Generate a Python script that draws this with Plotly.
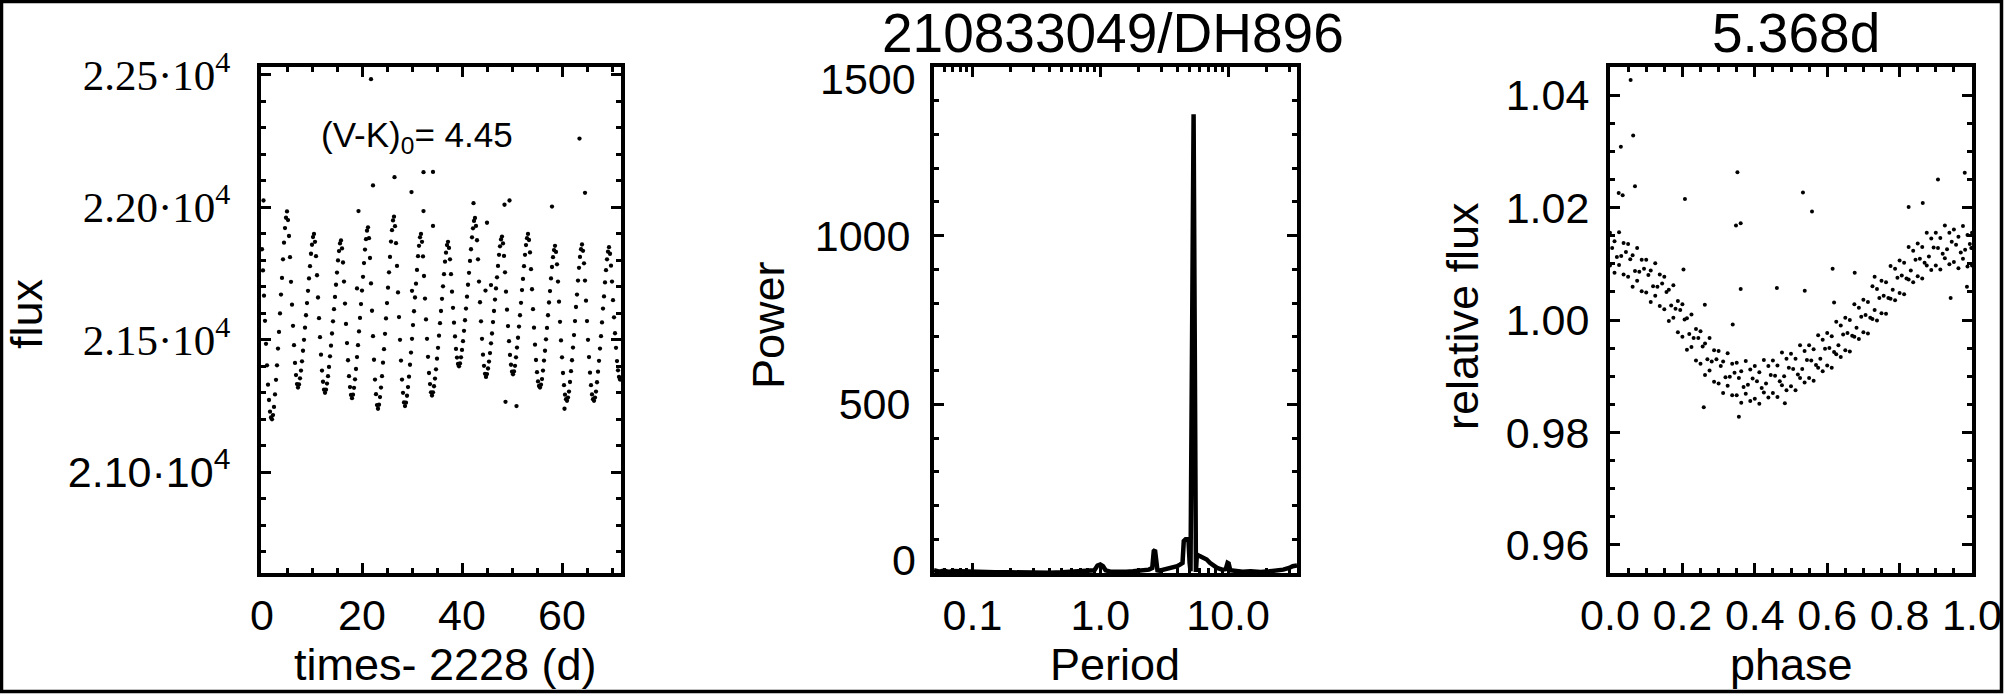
import plotly.graph_objects as go

W, H = 2005, 694

# ---------------- data: light curve (times - 2228 d, flux) ----------------
lc_start = 0.0
lc_cadence = 0.2
lc_flux = [
    21842, 21762, 21667, 21572, 21485, 21404, 21331, 21273, 21229, 21207, 21200,
    21216, 21247, 21294, 21349, 21404, 21467, 21530, 21600, 21671, 21734, 21804, 21867, 21922, 21961, 21985,
    21952, 21892, 21812, 21719, 21633, 21553, 21480, 21413, 21367, 21333, 21320,
    21332, 21355, 21384, 21419, 21459, 21500, 21546, 21593, 21639, 21685, 21732, 21778, 21825, 21859, 21888, 21900,
    21870, 21816, 21744, 21660, 21582, 21510, 21444, 21384, 21342, 21312, 21300,
    21312, 21335, 21363, 21398, 21438, 21478, 21524, 21570, 21616, 21662, 21708, 21754, 21800, 21835, 21864, 21875,
    21845, 21792, 21720, 21637, 21560, 21488, 21423, 21363, 21322, 21292, 21280,
    21293, 21319, 21351, 21390, 21435, 21480, 21532, 21583, 21635, 21686, 21738, 21790, 21841, 21880, 21912, 21925,
    21884, 21809, 21713, 21610, 21514, 21425, 21350, 21295, 21254, 21240,
    21255, 21284, 21320, 21363, 21414, 21465, 21523, 21581, 21639, 21697, 21755, 21813, 21871, 21914, 21951, 21965,
    21929, 21865, 21779, 21679, 21586, 21500, 21422, 21350, 21300, 21264, 21250,
    21263, 21289, 21322, 21361, 21406, 21452, 21504, 21556, 21608, 21660, 21712, 21764, 21816, 21855, 21887, 21900,
    21870, 21815, 21741, 21656, 21577, 21504, 21436, 21375, 21333, 21302, 21290,
    21302, 21325, 21354, 21389, 21429, 21470, 21516, 21563, 21609, 21655, 21702, 21748, 21795, 21829, 21858, 21870,
    21847, 21804, 21748, 21682, 21621, 21565, 21513, 21466, 21433, 21409, 21400,
    21411, 21434, 21462, 21495, 21534, 21574, 21618, 21663, 21708, 21753, 21798, 21842, 21887, 21921, 21949, 21960,
    21930, 21876, 21804, 21720, 21642, 21570, 21504, 21444, 21402, 21372, 21360,
    21371, 21392, 21418, 21450, 21487, 21524, 21567, 21609, 21652, 21694, 21736, 21779, 21821, 21853, 21879, 21890,
    21864, 21817, 21755, 21682, 21614, 21552, 21495, 21443, 21406, 21380, 21370,
    21381, 21402, 21434, 21471, 21508, 21550, 21593, 21640, 21688, 21730, 21778, 21821, 21858, 21884, 21900,
    21877, 21830, 21767, 21691, 21616, 21546, 21482, 21424, 21378, 21343, 21326, 21320,
    21331, 21352, 21384, 21422, 21459, 21502, 21545, 21593, 21641, 21684, 21732, 21775, 21812, 21839, 21855,
    21832, 21785, 21720, 21644, 21568, 21498, 21434, 21375, 21329, 21293, 21276, 21270,
    21282, 21305, 21341, 21382, 21423, 21471, 21518, 21571, 21624, 21671, 21724, 21772, 21813, 21842, 21860,
    21836, 21789, 21724, 21648, 21571, 21500, 21435, 21376, 21329, 21294, 21276, 21270,
    21282, 21305, 21340, 21380, 21421, 21467, 21514, 21566, 21618, 21664, 21717, 21763, 21804, 21833, 21850,
    21825, 21780, 21720, 21650, 21585, 21525, 21470, 21420, 21385, 21360, 21350, 21355,
]
lc_time = [round(lc_start + lc_cadence * i, 1) for i in range(len(lc_flux))]

lc_out_t = [0.3, 19.0, 19.3, 21.8, 22.2, 26.5, 29.9, 30.0, 32.3, 32.3, 34.2, 34.2,
            42.3, 44.7, 45.0, 45.8, 48.5, 48.7, 49.5, 50.9, 58.0, 60.5, 63.5, 64.6]
lc_out_f = [22026, 21694, 21986, 22484, 22083, 22114, 22058, 21685, 22133, 21986, 22134, 21930,
            22016, 21686, 21942, 21707, 22010, 21266, 22026, 21250, 22003, 21240, 22260, 22055]

# ---------------- data: periodogram ----------------
per_period = [0.050, 0.055, 0.060, 0.065, 0.070, 0.080, 0.090, 0.100, 0.120, 0.150, 0.20, 0.25,
              0.30, 0.40, 0.50, 0.60, 0.70, 0.80, 0.90, 0.95, 1.00, 1.05, 1.10, 1.20, 1.40,
              1.60, 1.80, 2.00, 2.20, 2.40, 2.55, 2.62, 2.68, 2.74, 2.80, 2.90, 3.10, 3.40,
              3.70, 4.00, 4.20, 4.40, 4.50, 4.65, 4.80, 4.90, 5.00, 5.08, 5.37, 5.60, 5.70,
              6.00, 6.40, 6.80, 7.20, 7.60, 8.20, 9.00, 9.60, 9.90, 10.1, 10.4, 11.5, 13.0,
              15.0, 18.0, 21.0, 24.0, 27.0, 30.0, 32.0, 34.6]
per_power = [8, 4, 7, 3, 6, 5, 7, 4, 3, 2, 2, 1,
             2, 1, 2, 3, 4, 5, 8, 22, 25, 20, 8, 4, 3,
             4, 5, 6, 8, 10, 15, 65, 68, 12, 8, 7, 9, 12,
             15, 20, 25, 30, 95, 100, 100, 95, 30, 5, 1360, 3, 55,
             50, 45, 40, 30, 22, 15, 10, 12, 30, 28, 8, 6, 4,
             5, 3, 5, 6, 10, 15, 20, 22]

# ---------------- data: phased light curve (P = 5.368 d) ----------------
ph_grid = [0.0, 0.0125, 0.025, 0.0375, 0.05, 0.0625, 0.075, 0.0875, 0.1, 0.1125, 0.125, 0.1375,
           0.15, 0.1625, 0.175, 0.1875, 0.2, 0.2125, 0.225, 0.2375, 0.25, 0.2625, 0.275, 0.2875,
           0.3, 0.3125, 0.325, 0.3375, 0.35, 0.3625, 0.375, 0.3875, 0.4, 0.4125, 0.425, 0.4375,
           0.45, 0.4625, 0.475, 0.4875, 0.5, 0.5125, 0.525, 0.5375, 0.55, 0.5625, 0.575, 0.5875,
           0.6, 0.6125, 0.625, 0.6375, 0.65, 0.6625, 0.675, 0.6875, 0.7, 0.7125, 0.725, 0.7375,
           0.75, 0.7625, 0.775, 0.7875, 0.8, 0.8125, 0.825, 0.8375, 0.85, 0.8625, 0.875, 0.8875,
           0.9, 0.9125, 0.925, 0.9375, 0.95, 0.9625, 0.975, 0.9875, 1.0]
ph_mid = [0.006, 0.019, 0.031, 0.044, 0.056, 0.069, 0.081, 0.094, 0.106, 0.119, 0.131, 0.144,
          0.156, 0.169, 0.181, 0.194, 0.206, 0.219, 0.231, 0.244, 0.256, 0.269, 0.281, 0.294,
          0.306, 0.319, 0.331, 0.344, 0.356, 0.369, 0.381, 0.394, 0.406, 0.419, 0.431, 0.444,
          0.456, 0.469, 0.481, 0.494, 0.506, 0.519, 0.531, 0.544, 0.556, 0.569, 0.581, 0.594,
          0.606, 0.619, 0.631, 0.644, 0.656, 0.669, 0.681, 0.694, 0.706, 0.719, 0.731, 0.744,
          0.756, 0.769, 0.781, 0.794, 0.806, 0.819, 0.831, 0.844, 0.856, 0.869, 0.881, 0.894,
          0.906, 0.919, 0.931, 0.944, 0.956, 0.969, 0.981, 0.994, 0.998]
rel_hi = [1.0155, 1.0140, 1.0156, 1.0137, 1.0135, 1.0115, 1.0128, 1.0107, 1.0107, 1.0088, 1.0101, 1.0081,
          1.0077, 1.0054, 1.0062, 1.0034, 1.0028, 1.0003, 1.0010, 0.9984, 0.9980, 0.9958, 0.9968, 0.9946,
          0.9945, 0.9926, 0.9941, 0.9922, 0.9924, 0.9909, 0.9927, 0.9912, 0.9918, 0.9907, 0.9929, 0.9918,
          0.9928, 0.9919, 0.9942, 0.9931, 0.9940, 0.9931, 0.9955, 0.9945, 0.9955, 0.9948, 0.9973, 0.9965,
          0.9977, 0.9971, 0.9997, 0.9990, 1.0004, 1.0000, 1.0028, 1.0022, 1.0036, 1.0032, 1.0060, 1.0055,
          1.0070, 1.0067, 1.0096, 1.0091, 1.0106, 1.0102, 1.0130, 1.0123, 1.0136, 1.0130, 1.0155, 1.0145,
          1.0155, 1.0146, 1.0168, 1.0155, 1.0161, 1.0148, 1.0167, 1.0151, 1.0155]
rel_mid = [1.0128, 1.0112, 1.0114, 1.0121, 1.0108, 1.0087, 1.0086, 1.0091, 1.0080, 1.0060, 1.0059, 1.0065,
           1.0050, 1.0026, 1.0020, 1.0018, 1.0001, 0.9975, 0.9968, 0.9968, 0.9953, 0.9930, 0.9926, 0.9930,
           0.9918, 0.9898, 0.9899, 0.9906, 0.9897, 0.9881, 0.9885, 0.9896, 0.9891, 0.9879, 0.9887, 0.9902,
           0.9901, 0.9891, 0.9900, 0.9915, 0.9913, 0.9903, 0.9913, 0.9929, 0.9928, 0.9920, 0.9931, 0.9949,
           0.9950, 0.9943, 0.9955, 0.9974, 0.9977, 0.9972, 0.9986, 1.0006, 1.0009, 1.0004, 1.0018, 1.0039,
           1.0043, 1.0039, 1.0054, 1.0075, 1.0079, 1.0074, 1.0088, 1.0107, 1.0109, 1.0102, 1.0113, 1.0129,
           1.0128, 1.0118, 1.0126, 1.0139, 1.0134, 1.0120, 1.0125, 1.0135, 1.0128]
rel_lo = [1.0097, 1.0084, 1.0098, 1.0081, 1.0077, 1.0059, 1.0070, 1.0051, 1.0049, 1.0032, 1.0043, 1.0025,
          1.0019, 0.9998, 1.0004, 0.9978, 0.9970, 0.9947, 0.9952, 0.9928, 0.9922, 0.9902, 0.9910, 0.9890,
          0.9887, 0.9870, 0.9883, 0.9866, 0.9866, 0.9853, 0.9869, 0.9856, 0.9860, 0.9851, 0.9871, 0.9862,
          0.9870, 0.9863, 0.9884, 0.9875, 0.9882, 0.9875, 0.9897, 0.9889, 0.9897, 0.9892, 0.9915, 0.9909,
          0.9919, 0.9915, 0.9939, 0.9934, 0.9946, 0.9944, 0.9970, 0.9966, 0.9978, 0.9976, 1.0002, 0.9999,
          1.0012, 1.0011, 1.0038, 1.0035, 1.0048, 1.0046, 1.0072, 1.0067, 1.0078, 1.0074, 1.0097, 1.0089,
          1.0097, 1.0090, 1.0110, 1.0099, 1.0103, 1.0092, 1.0109, 1.0095, 1.0097]
ph_out = [0.057, 0.030, 0.064, 0.069, 0.024, 0.035, 0.207, 0.352, 0.348, 0.361, 0.361, 0.203,
          0.533, 0.558, 0.615, 0.676, 0.731, 0.825, 0.864, 0.906, 0.980, 0.461, 0.538, 0.619,
          0.339, 0.262, 0.259, 0.356, 0.483, 0.941, 0.986]
rel_out = [1.0427, 1.0308, 1.0328, 1.0238, 1.0226, 1.0222, 1.0215, 1.0263, 1.0168, 1.0172, 1.0055, 1.0090,
           1.0227, 1.0193, 1.0091, 1.0084, 1.0077, 1.0201, 1.0208, 1.0250, 1.0262, 1.0057, 1.0052, 1.0031,
           0.9992, 1.0027, 0.9845, 0.9828, 0.9852, 1.0039, 1.0059]

# ---------------- tick labels ----------------
lc_ytickvals = [21000, 21500, 22000, 22500]
lc_yticktext = ["2.10·10<sup>4</sup>",
                "<span style=\"font-family:Liberation Serif\">2.15·10<sup>4</sup></span>",
                "<span style=\"font-family:Liberation Serif\">2.20·10<sup>4</sup></span>",
                "<span style=\"font-family:Liberation Serif\">2.25·10<sup>4</sup></span>"]
lc_xtickvals = [0, 20, 40, 60]
per_xtickvals = [0.1, 1.0, 10.0]
per_xticktext = ["0.1", "1.0", "10.0"]
per_ytickvals = [0, 500, 1000, 1500]
per_yticktext = ["", "500", "1000", ""]          # end labels drawn nudged inward, as in the original
per_yend_labels = ["0", "1500"]
ph_xtickvals = [0.0, 0.2, 0.4, 0.6, 0.8, 1.0]
ph_xticktext = ["0.0", "0.2", "0.4", "0.6", "0.8", "1.0"]
ph_ytickvals = [0.96, 0.98, 1.00, 1.02, 1.04]
ph_yticktext = ["0.96", "0.98", "1.00", "1.02", "1.04"]
per_minor = [0.05, 0.06, 0.07, 0.08, 0.09, 0.2, 0.3, 0.4, 0.5, 0.6, 0.7, 0.8, 0.9,
             2, 3, 4, 5, 6, 7, 8, 9, 20, 30]

# ---------------- layout geometry (pixels) ----------------
def fx(p):
    return p / W

def fy(p):
    return 1 - p / H

TOP, BOT = 67, 573

FONT = "Liberation Sans"
fig = go.Figure()

mk = dict(color="black", size=4.3)
mk2 = dict(color="black", size=4)
fig.add_trace(go.Scatter(x=lc_time, y=lc_flux, mode="markers", marker=mk, xaxis="x", yaxis="y"))
fig.add_trace(go.Scatter(x=lc_out_t, y=lc_out_f, mode="markers", marker=mk, xaxis="x", yaxis="y"))
fig.add_trace(go.Scatter(x=per_period, y=per_power, mode="lines", line=dict(color="black", width=4.5),
                         xaxis="x2", yaxis="y2"))
fig.add_trace(go.Scatter(x=ph_grid, y=rel_hi, mode="markers", marker=mk2, xaxis="x3", yaxis="y3"))
fig.add_trace(go.Scatter(x=ph_mid, y=rel_mid, mode="markers", marker=mk2, xaxis="x3", yaxis="y3"))
fig.add_trace(go.Scatter(x=ph_grid, y=rel_lo, mode="markers", marker=mk2, xaxis="x3", yaxis="y3"))
fig.add_trace(go.Scatter(x=ph_out, y=rel_out, mode="markers", marker=mk2, xaxis="x3", yaxis="y3"))

TICKF = dict(family=FONT, size=43, color="black")

def minor(**kw):
    d = dict(ticklen=5, tickwidth=3, ticks="inside", tickcolor="black")
    d.update(kw)
    return d

def axis_common(**kw):
    d = dict(showline=True, linewidth=4, linecolor="black", mirror="allticks",
             ticks="inside", ticklen=10, tickwidth=3, tickcolor="black",
             showgrid=False, zeroline=False, tickfont=TICKF, tickmode="array")
    d.update(kw)
    return d

fig.update_layout(
    width=W, height=H, margin=dict(l=0, r=0, t=0, b=0, pad=0, autoexpand=False),
    paper_bgcolor="white", plot_bgcolor="white", showlegend=False,
    font=dict(family=FONT, color="black"),
    xaxis=axis_common(domain=[fx(261), fx(621)], range=[-0.2, 71.8], tickvals=lc_xtickvals,
                      ticktext=[str(v) for v in lc_xtickvals], anchor="y", ticklabelstandoff=1,
                      minor=minor(dtick=5)),
    yaxis=axis_common(domain=[fy(BOT), fy(TOP)], range=[20620, 22530], tickvals=lc_ytickvals,
                      ticktext=lc_yticktext, anchor="x", ticklabelstandoff=18,
                      tickfont=dict(family=FONT, size=43, color="black"),
                      minor=minor(dtick=100)),
    xaxis2=axis_common(domain=[fx(934), fx(1297)], type="log", range=[-1.301, 1.539],
                       tickvals=per_xtickvals, ticktext=per_xticktext, anchor="y2", ticklabelstandoff=1,
                       minor=minor(tickmode="array", tickvals=per_minor)),
    yaxis2=axis_common(domain=[fy(BOT), fy(TOP)], range=[0, 1500], tickvals=per_ytickvals,
                       ticktext=per_yticktext, anchor="x2", ticklabelstandoff=11,
                       minor=minor(dtick=100)),
    xaxis3=axis_common(domain=[fx(1610), fx(1972)], range=[0, 1], tickvals=ph_xtickvals,
                       ticktext=ph_xticktext, anchor="y3", ticklabelstandoff=1,
                       minor=minor(dtick=0.05)),
    yaxis3=axis_common(domain=[fy(BOT), fy(TOP)], range=[0.955, 1.045], tickvals=ph_ytickvals,
                       ticktext=ph_yticktext, anchor="x3", ticklabelstandoff=8,
                       minor=minor(dtick=0.005)),
)

AX = dict(family=FONT, size=45, color="black")
TT = dict(family=FONT, size=55, color="black")
ann = [
    dict(text="flux", x=fx(27), y=fy(314), textangle=-90),
    dict(text="times- 2228 (d)", x=fx(445), y=fy(664)),
    dict(text="Power", x=fx(768), y=fy(325), textangle=-90),
    dict(text="Period", x=fx(1115), y=fy(664)),
    dict(text="relative flux", x=fx(1462), y=fy(316), textangle=-90),
    dict(text="phase", x=fx(1791), y=fy(664)),
    dict(text="210833049/DH896", x=fx(1113), y=1, yanchor="top", font=TT),
    dict(text="5.368d", x=fx(1796), y=1, yanchor="top", font=TT),
    dict(text="(V-K)<sub>0</sub>= 4.45", x=fx(417), y=fy(137), font=dict(family=FONT, size=35, color="black")),
    dict(text=per_yend_labels[0], x=fx(918), y=fy(560), xanchor="right", font=TICKF),
    dict(text=per_yend_labels[1], x=fx(918), y=fy(79), xanchor="right", font=TICKF),
]
for a in ann:
    a.setdefault("font", AX)
    a.setdefault("xanchor", "center")
    a.setdefault("yanchor", "middle")
    a.update(xref="paper", yref="paper", showarrow=False)
fig.update_layout(annotations=ann)

fig.add_shape(type="rect", xref="paper", yref="paper", x0=fx(1.5), x1=fx(2001.5), y0=fy(691.5), y1=fy(1.5),
              line=dict(color="black", width=3.5), layer="above")

fig.write_html("out.html", config={"displayModeBar": False},
               post_script="document.body.style.margin='0px';document.body.style.overflow='hidden';")
